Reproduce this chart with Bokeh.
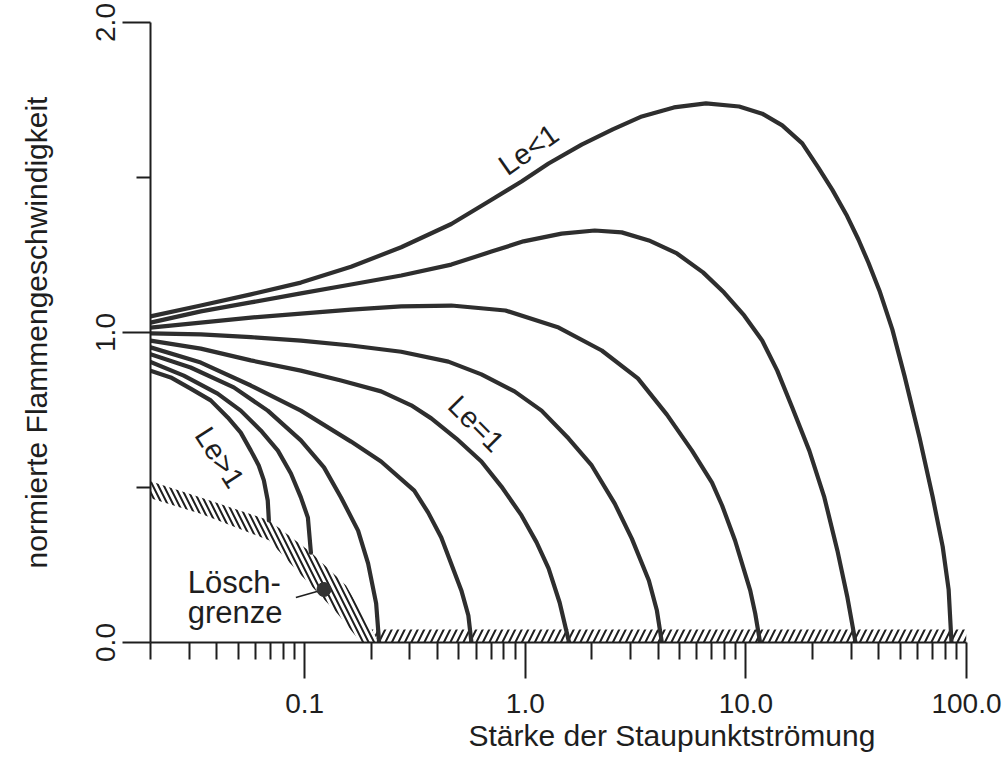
from bokeh.plotting import figure
from bokeh.models import FixedTicker, Title
from bokeh.core.properties import value
from bokeh.embed import file_html
from bokeh.resources import INLINE

# ---------------- data ----------------
c1_x = [0.020, 0.0247, 0.0304, 0.0375, 0.0448, 0.0513, 0.0570, 0.0619, 0.0653, 0.0680, 0.0688]
c1_y = [0.877, 0.855, 0.819, 0.781, 0.726, 0.677, 0.619, 0.571, 0.523, 0.458, 0.394]

c2_x = [0.020, 0.0283, 0.0403, 0.0513, 0.0632, 0.0756, 0.0866, 0.0961, 0.1034, 0.1067]
c2_y = [0.905, 0.861, 0.803, 0.748, 0.684, 0.619, 0.545, 0.468, 0.403, 0.290]

c3_x = [0.020, 0.0304, 0.0477, 0.0680, 0.0961, 0.1223, 0.1461, 0.1746, 0.1938, 0.2108, 0.2175]
c3_y = [0.930, 0.887, 0.823, 0.748, 0.652, 0.565, 0.468, 0.361, 0.255, 0.126, 0.0]

c4_x = [0.020, 0.0338, 0.0570, 0.0961, 0.1622, 0.2220, 0.3138, 0.363, 0.4160, 0.5130, 0.552, 0.570]
c4_y = [0.952, 0.903, 0.829, 0.748, 0.648, 0.584, 0.490, 0.419, 0.339, 0.168, 0.087, 0.0]

c5_x = [0.020, 0.0338, 0.0570, 0.0961, 0.1461, 0.2220, 0.3040, 0.3748, 0.4868, 0.6325,
        0.7796, 0.9613, 1.125, 1.275, 1.431, 1.58]
c5_y = [0.974, 0.948, 0.910, 0.877, 0.845, 0.810, 0.765, 0.723, 0.658, 0.584,
        0.503, 0.410, 0.323, 0.239, 0.129, 0.0]

c6_x = [0.020, 0.0338, 0.0570, 0.0961, 0.1622, 0.2738, 0.4478, 0.6325, 0.8934, 1.185,
        1.572, 2.0, 2.544, 3.04, 3.632, 3.95, 4.16]
c6_y = [0.997, 0.994, 0.985, 0.974, 0.958, 0.938, 0.906, 0.865, 0.810, 0.748,
        0.658, 0.571, 0.448, 0.335, 0.200, 0.103, 0.0]

c7_x = [0.020, 0.0338, 0.0570, 0.0961, 0.1622, 0.2738, 0.4620, 0.8128, 1.416, 2.221,
        3.238, 4.384, 5.696, 7.02, 7.80, 8.93, 10.46, 11.02, 11.6]
c7_y = [1.016, 1.032, 1.048, 1.061, 1.074, 1.084, 1.087, 1.071, 1.016, 0.942,
        0.852, 0.735, 0.619, 0.516, 0.442, 0.329, 0.168, 0.094, 0.0]

c8_x = [0.020, 0.0338, 0.0570, 0.0961, 0.1622, 0.2738, 0.4620, 0.7024, 0.9818, 1.461,
        2.064, 2.736, 3.632, 4.868, 6.392, 7.962, 9.818, 11.85, 13.87, 16.22,
        19.38, 22.68, 25.98, 28.86, 31.4]
c8_y = [1.032, 1.068, 1.097, 1.126, 1.155, 1.184, 1.219, 1.261, 1.294, 1.319,
        1.329, 1.323, 1.297, 1.255, 1.194, 1.129, 1.055, 0.974, 0.877, 0.758,
        0.619, 0.468, 0.297, 0.145, 0.0]

c9_x = [0.020, 0.0338, 0.0570, 0.0961, 0.1622, 0.2738, 0.4620, 0.6734, 0.9613, 1.275,
        1.801, 2.492, 3.376, 4.718, 6.592, 9.318, 11.85, 14.61, 18.01, 21.3,
        24.66, 28.54, 32.36, 35.94, 40.32, 46.1, 52.36, 61.3, 70.24, 77.96, 83.0, 85.5]
c9_y = [1.052, 1.087, 1.123, 1.161, 1.212, 1.275, 1.350, 1.420, 1.487, 1.545,
        1.606, 1.655, 1.697, 1.726, 1.739, 1.729, 1.706, 1.668, 1.610, 1.532,
        1.460, 1.380, 1.300, 1.225, 1.135, 1.010, 0.860, 0.660, 0.470, 0.310, 0.170, 0.0]

# quench limit (Löschgrenze) hatched band: upper and lower edges
quench_upper_x = [0.020, 0.0338, 0.0688, 0.107, 0.154, 0.2175]
quench_upper_y = [0.520, 0.468, 0.394, 0.290, 0.184, 0.0]
quench_lower_x = [0.020, 0.0338, 0.0688, 0.100, 0.140, 0.180]
quench_lower_y = [0.465, 0.415, 0.330, 0.205, 0.095, 0.0]

# hatched band along the x axis
floor_x = [0.2175, 100.0, 100.0, 0.201]
floor_y = [0.0, 0.0, 0.042, 0.042]

# marker and its leader line
dot_x = [0.1223]
dot_y = [0.171]
leader_x = [0.0912, 0.1223]
leader_y = [0.145, 0.171]

# curve labels
lab_text = ["Le<1", "Le=1", "Le>1"]
lab_x = [1.034, 0.60, 0.0412]
lab_y = [1.590, 0.706, 0.597]
lab_angle = [0.61, -0.79, -1.0]

quench_text = ["Lösch-", "grenze"]
quench_tx = [0.0295, 0.0295]
quench_ty = [0.195, 0.098]

# axes
x_ticks = [0.1, 1.0, 10.0, 100.0]
x_tick_labels = ["0.1", "1.0", "10.0", "100.0"]
x_minor = [0.02, 0.03, 0.04, 0.05, 0.06, 0.07, 0.08, 0.09,
           0.2, 0.3, 0.4, 0.5, 0.6, 0.7, 0.8, 0.9,
           2, 3, 4, 5, 6, 7, 8, 9,
           20, 30, 40, 50, 60, 70, 80, 90]
y_ticks = [0.0, 1.0, 2.0]
y_tick_labels = ["0.0", "1.0", "2.0"]
y_minor = [0.5, 1.5]

x_title = "Stärke der Staupunktströmung"
y_title = "normierte Flammengeschwindigkeit"

# ---------------- figure ----------------
FONT = "Liberation Sans"
INK = "#1e1e1e"
CURVE = "#2e2e2e"

p = figure(width=1008, height=776, x_axis_type="log",
           x_range=(0.02, 100.0), y_range=(0.0, 2.0),
           output_backend="svg", toolbar_location=None)
p.min_border_left = 150
p.min_border_right = 42
p.min_border_top = 22
p.min_border_bottom = 134
p.outline_line_color = None
p.xgrid.visible = False
p.ygrid.visible = False
p.background_fill_color = "white"
p.border_fill_color = "white"

# x axis
xa = p.xaxis[0]
xa.ticker = FixedTicker(ticks=x_ticks, minor_ticks=x_minor)
xa.major_label_overrides = {t: l for t, l in zip(x_ticks, x_tick_labels)}
xa.major_tick_out = 36
xa.major_tick_in = 0
xa.minor_tick_out = 17
xa.minor_tick_in = 0
xa.axis_line_width = 2
xa.major_tick_line_width = 2
xa.minor_tick_line_width = 2
xa.axis_line_color = INK
xa.major_tick_line_color = INK
xa.minor_tick_line_color = INK
xa.major_label_text_font = FONT
xa.major_label_text_font_size = "28px"
xa.major_label_text_color = INK
xa.major_label_standoff = 15

# y axis
ya = p.yaxis[0]
ya.ticker = FixedTicker(ticks=y_ticks, minor_ticks=y_minor)
ya.major_label_overrides = {t: l for t, l in zip(y_ticks, y_tick_labels)}
ya.major_tick_out = 28
ya.major_tick_in = 0
ya.minor_tick_out = 14
ya.minor_tick_in = 0
ya.axis_line_width = 2
ya.major_tick_line_width = 2
ya.minor_tick_line_width = 2
ya.axis_line_color = INK
ya.major_tick_line_color = INK
ya.minor_tick_line_color = INK
ya.major_label_orientation = "vertical"
ya.major_label_text_font = FONT
ya.major_label_text_font_size = "28px"
ya.major_label_text_color = INK
ya.major_label_standoff = 8
ya.axis_label = y_title
ya.axis_label_text_font = FONT
ya.axis_label_text_font_size = "30px"
ya.axis_label_text_font_style = "normal"
ya.axis_label_text_color = INK
ya.axis_label_standoff = 40

# hatched bands
p.patch(quench_upper_x + quench_lower_x[::-1], quench_upper_y + quench_lower_y[::-1],
        fill_color=None, line_color=None,
        hatch_pattern="\\", hatch_color=INK, hatch_scale=11, hatch_weight=2.0)
p.patch(floor_x, floor_y, fill_color=None, line_color=None,
        hatch_pattern="/", hatch_color=INK, hatch_scale=13, hatch_weight=2.0)

# curves
curves_x = [c1_x, c2_x, c3_x, c4_x, c5_x, c6_x, c7_x, c8_x, c9_x]
curves_y = [c1_y, c2_y, c3_y, c4_y, c5_y, c6_y, c7_y, c8_y, c9_y]
p.multi_line(curves_x, curves_y, line_color=CURVE, line_width=4.2,
             line_join="round", line_cap="round")

# marker with leader
p.line(leader_x, leader_y, line_color=INK, line_width=1.6)
p.scatter(dot_x, dot_y, size=14, color="#333333")

# labels
p.text(x=lab_x, y=lab_y, text=lab_text, angle=lab_angle,
       text_font=value(FONT), text_font_size="29px", text_color=INK,
       text_align="center", text_baseline="middle")
p.text(x=quench_tx, y=quench_ty, text=quench_text,
       text_font=value(FONT), text_font_size="31px", text_color=INK,
       text_align="left", text_baseline="alphabetic")

# x-axis title, placed under the right half as in the original
p.add_layout(Title(text=x_title, align="left", offset=318, standoff=2,
                   text_font=FONT, text_font_size="30px", text_font_style="normal",
                   text_color=INK), "below")

open("out.html", "w").write(file_html(p, INLINE))
